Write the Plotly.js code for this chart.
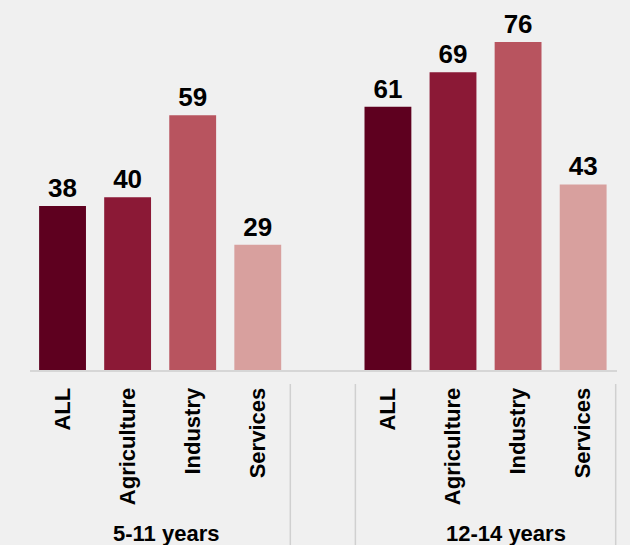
<!DOCTYPE html>
<html>
<head>
<meta charset="utf-8">
<script src="https://cdn.plot.ly/plotly-3.0.1.min.js"></script>
<style>
  html, body { margin: 0; padding: 0; background: #f0f0f0; }
  #chart { width: 630px; height: 545px; }
</style>
</head>
<body>
<div id="chart"></div>
<script>
// Data
var groups = ["5-11 years", "12-14 years"];
var sectors = ["ALL", "Agriculture", "Industry", "Services"];
var values_5_11 = [38, 40, 59, 29];
var values_12_14 = [61, 69, 76, 43];
var sectorColors = ["#5e001f", "#8b1936", "#b8545f", "#d8a09e"];

var allValues = [values_5_11, values_12_14];

// Positions: each group takes 4 slots, one empty slot between groups
var xs = [], ys = [], cols = [], tickvals = [], ticktext = [];
allValues.forEach(function (vals, g) {
  vals.forEach(function (v, i) {
    var pos = g * 5 + i;
    xs.push(pos);
    ys.push(v);
    cols.push(sectorColors[i]);
    tickvals.push(pos);
    ticktext.push(sectors[i]);
  });
});

var fontFam = "'Liberation Sans', Arial, Helvetica, sans-serif";

var trace = {
  type: "bar",
  x: xs,
  y: ys,
  marker: { color: cols, line: { width: 0 } },
  text: ys.map(String),
  textposition: "outside",
  constraintext: "none",
  cliponaxis: false,
  textfont: { family: fontFam, size: 26, color: "#000000", weight: "bold" },
  hoverinfo: "none"
};

// group separators (at group boundaries)
var sepX = [3.5, 4.5, 8.5];
var shapes = sepX.map(function (x) {
  return {
    type: "line", xref: "x", yref: "paper",
    x0: x, x1: x, y0: -14 / 370, y1: -175 / 370,
    line: { color: "#d0d0d0", width: 1.5 }
  };
});

var groupLabelX = [1.59, 6.81];
var annotations = groups.map(function (g, i) {
  return {
    text: g, xref: "x", yref: "paper",
    x: groupLabelX[i], y: -175 / 370, yanchor: "bottom", xanchor: "center",
    yshift: -3,
    showarrow: false,
    font: { family: fontFam, size: 22, color: "#000000", weight: "bold" }
  };
});

var layout = {
  width: 630, height: 545,
  margin: { l: 30, r: 13, t: 0, b: 175, pad: 0 },
  paper_bgcolor: "#f0f0f0",
  plot_bgcolor: "#f0f0f0",
  bargap: 0.28,
  showlegend: false,
  xaxis: {
    range: [-0.5, 8.52],
    tickmode: "array",
    tickvals: tickvals,
    ticktext: ticktext,
    tickangle: -90,
    ticks: "",
    ticklabelstandoff: 7,
    showgrid: false,
    zeroline: false,
    showline: true,
    linecolor: "#d6d6d6",
    linewidth: 2,
    tickfont: { family: fontFam, size: 22, color: "#000000", weight: "bold" }
  },
  yaxis: {
    range: [0, 85.73],
    visible: false,
    showgrid: false,
    zeroline: false
  },
  shapes: shapes,
  annotations: annotations
};

Plotly.newPlot("chart", [trace], layout, { displayModeBar: false, staticPlot: true });
</script>
</body>
</html>
